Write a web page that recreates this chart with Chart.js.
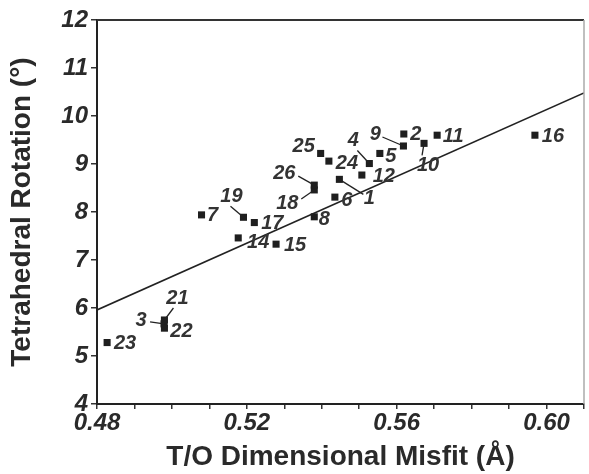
<!DOCTYPE html>
<html><head><meta charset="utf-8">
<script src="https://cdn.jsdelivr.net/npm/chart.js@4/dist/chart.umd.min.js"></script>
<style>html,body{margin:0;padding:0;background:#fff}#wrap{width:589px;height:474px}</style>
</head><body><div id="wrap"><canvas id="c" width="589" height="474"></canvas></div>
<script>
// Data
const ids   = ['1','2','3','4','5','6','7','8','9','10','11','12','14','15','16','17','18','19','21','22','23','24','25','26'];
const misfit = [0.5447,0.5619,0.4979,0.5527,0.5555,0.5435,0.5079,0.5380,0.5618,0.5673,0.5708,0.5507,0.5177,0.5278,0.5969,0.5220,0.5380,0.5191,0.4980,0.4980,0.4827,0.5419,0.5397,0.5380];
const rotation = [8.68,9.625,5.67,9.01,9.22,8.31,7.94,7.90,9.375,9.43,9.60,8.77,7.46,7.33,9.60,7.78,8.46,7.89,5.75,5.58,5.28,9.06,9.22,8.56];
const fitX = [0.48, 0.61];
const fitY = [5.96, 10.48];
const xTickLabels = ['0.48','0.52','0.56','0.60'];
const yTickLabels = ['4','5','6','7','8','9','10','11','12'];

// label placement (pixel offsets from marker) and leader lines
const labelOff = {
 '1':[30,19,[24,15]], '2':[12,0], '3':[-23,-3,[-14,-2]], '4':[-16,-23,[-12,-13]], '5':[11,3],
 '6':[12,3], '7':[11,1], '8':[10,3], '9':[-28,-12,[-21,-9]], '10':[4,22,[-2,12]],
 '11':[16,1], '12':[22,1], '14':[20,5], '15':[19,1], '16':[18,1], '17':[18,1],
 '18':[-27,14,[-13,9]], '19':[-12,-21,[-13,-11]], '21':[13,-22,[9,-12]], '22':[17,3],
 '23':[18,1], '24':[18,2], '25':[-17,-7], '26':[-30,-12,[-16,-9]]
};

const pts = misfit.map((x,i)=>({x:x,y:rotation[i]}));
const fit = fitX.map((x,i)=>({x:x,y:fitY[i]}));

const labelPlugin = {
  id:'labels',
  afterDatasetsDraw(chart){
    const ctx = chart.ctx;
    const meta = chart.getDatasetMeta(1);
    ctx.save();
    ctx.font = 'italic bold 20px "Liberation Sans", Arial, sans-serif';
    ctx.fillStyle = '#333';
    ctx.strokeStyle = '#222';
    ctx.lineWidth = 1.3;
    ctx.textAlign = 'center';
    ctx.textBaseline = 'middle';
    meta.data.forEach((el,i)=>{
      const o = labelOff[ids[i]];
      if(!o) return;
      if(o[2]){
        ctx.beginPath();
        ctx.moveTo(el.x, el.y);
        ctx.lineTo(el.x+o[2][0], el.y+o[2][1]);
        ctx.stroke();
      }
      ctx.fillText(ids[i], el.x+o[0], el.y+o[1]);
    });
    // frame top and right
    const a = chart.chartArea;
    ctx.strokeStyle = '#333';
    ctx.lineWidth = 2;
    ctx.beginPath(); ctx.moveTo(a.left, a.top); ctx.lineTo(a.right, a.top); ctx.stroke();
    ctx.strokeStyle = '#aaa';
    ctx.lineWidth = 1.5;
    ctx.beginPath(); ctx.moveTo(a.right, a.top); ctx.lineTo(a.right, a.bottom); ctx.stroke();
    ctx.restore();
  }
};

new Chart(document.getElementById('c'), {
  data:{datasets:[
    {type:'line', data:fit, borderColor:'#222', borderWidth:1.6, pointRadius:0, fill:false},
    {type:'scatter', data:pts, pointStyle:'rect', pointRadius:5, backgroundColor:'#1f1f1f', borderColor:'#1f1f1f', borderWidth:0}
  ]},
  options:{
    responsive:false, animation:false,
    layout:{padding:{top:20,right:2,left:0,bottom:0}},
    plugins:{legend:{display:false}, tooltip:{enabled:false}},
    scales:{
      x:{type:'linear', min:0.48, max:0.61,
        afterFit(s){s.height=70;},
        grid:{display:true, drawOnChartArea:false, drawTicks:true, tickLength:5, color:'#333', lineWidth:1.5},
        border:{display:true, color:'#222', width:2},
        ticks:{stepSize:0.01, autoSkip:false, maxRotation:0, padding:0, color:'#2a2a2a',
          font:{family:'"Liberation Sans", Arial, sans-serif', size:24, style:'italic', weight:'bold'},
          callback(v){const s=v.toFixed(2); return xTickLabels.includes(s)?s:'';}},
        title:{display:true, text:'T/O Dimensional Misfit (Å)', color:'#2a2a2a', padding:{top:0,bottom:0},
          font:{family:'"Liberation Sans", Arial, sans-serif', size:28, weight:'bold'}}
      },
      y:{type:'linear', min:4, max:12,
        afterFit(s){s.width=97;},
        grid:{display:true, drawOnChartArea:false, drawTicks:true, tickLength:6, color:'#333', lineWidth:1.5},
        border:{display:true, color:'#222', width:2},
        ticks:{stepSize:1, padding:3, color:'#2a2a2a',
          font:{family:'"Liberation Sans", Arial, sans-serif', size:24, style:'italic', weight:'bold'},
          callback(v){const s=String(v); return yTickLabels.includes(s)?s:'';}},
        title:{display:true, text:'Tetrahedral Rotation (°)', color:'#2a2a2a', padding:{top:5,bottom:0},
          font:{family:'"Liberation Sans", Arial, sans-serif', size:28, weight:'bold'}}
      }
    }
  },
  plugins:[labelPlugin]
});
</script></body></html>
